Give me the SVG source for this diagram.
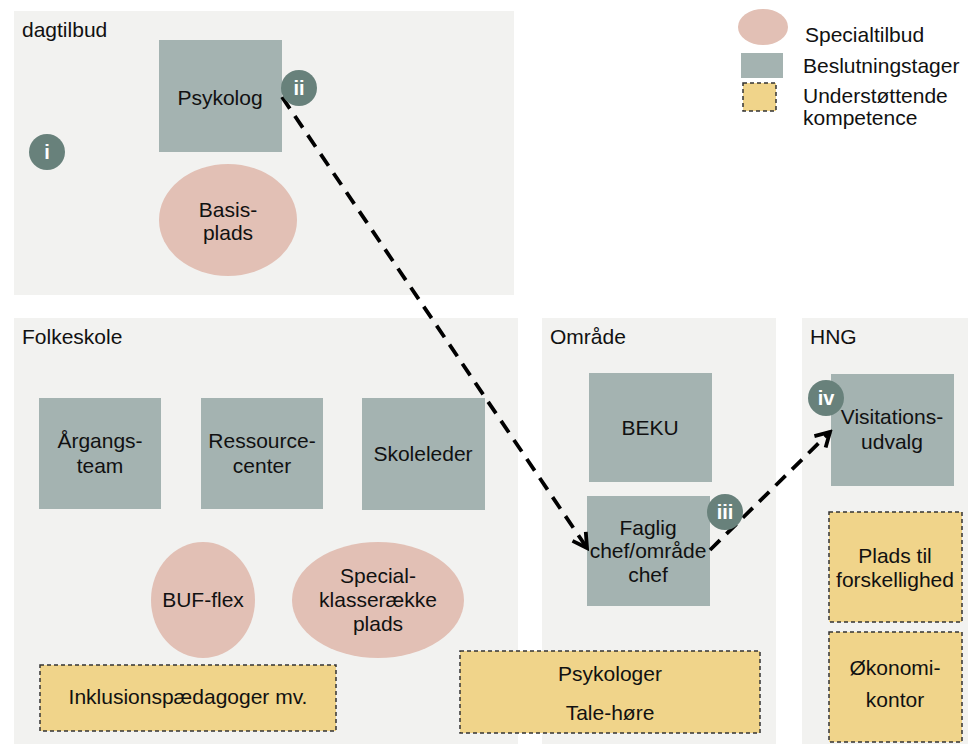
<svg xmlns="http://www.w3.org/2000/svg" width="968" height="744" viewBox="0 0 968 744">
<style>
text{font-family:"Liberation Sans",Arial,sans-serif;font-size:21px;fill:#111}
.c{text-anchor:middle}
.panel{fill:#f2f2f0}
.box{fill:#a4b3b1}
.ell{fill:#e2c0b5}
.sup{fill:#f0d48a;stroke:#333;stroke-width:1.5;stroke-dasharray:4 3}
.badge circle{fill:#68817b}
.badge text{fill:#fff;font-weight:bold;font-size:20px;text-anchor:middle}
.conn{fill:none;stroke:#000;stroke-width:3.8;stroke-dasharray:14 9}
</style>
<defs>
<marker id="arr" markerUnits="userSpaceOnUse" markerWidth="20" markerHeight="20" viewBox="0 0 20 20" refX="17" refY="10" orient="auto">
<path d="M3,2 L17,10 L3,18" fill="none" stroke="#000" stroke-width="3.8"/>
</marker>
</defs>
<rect width="968" height="744" fill="#fff"/>
<g id="panel-dagtilbud"><rect class="panel" x="14" y="11" width="500" height="284"/><text x="22" y="37">dagtilbud</text></g>
<g id="panel-folkeskole"><rect class="panel" x="14" y="318" width="504" height="430"/><text x="22" y="344">Folkeskole</text></g>
<g id="panel-omraade"><rect class="panel" x="542" y="318" width="234" height="430"/><text x="550" y="344">Område</text></g>
<g id="panel-hng"><rect class="panel" x="802" y="318" width="166" height="430"/><text x="810" y="344">HNG</text></g>

<g id="legend">
<ellipse class="ell" cx="763" cy="27" rx="25" ry="18"/>
<rect class="box" x="741" y="53" width="42" height="25"/>
<rect class="sup" x="743" y="83" width="33" height="28"/>
<text x="805" y="42">Specialtilbud</text>
<text x="803" y="73">Beslutningstager</text>
<text x="803" y="103">Understøttende</text>
<text x="803" y="125">kompetence</text>
</g>

<g id="psykolog"><rect class="box" x="159" y="40" width="123" height="112"/><text class="c" x="220" y="105">Psykolog</text></g>
<g id="basisplads"><ellipse class="ell" cx="228" cy="220" rx="69" ry="56"/><text class="c" x="228" y="217">Basis-</text><text class="c" x="228" y="240">plads</text></g>
<g id="aargangsteam"><rect class="box" x="39" y="398" width="122" height="111"/><text class="c" x="100" y="448">Årgangs-</text><text class="c" x="100" y="473">team</text></g>
<g id="ressourcecenter"><rect class="box" x="201" y="398" width="122" height="111"/><text class="c" x="262" y="448">Ressource-</text><text class="c" x="262" y="473">center</text></g>
<g id="skoleleder"><rect class="box" x="362" y="398" width="123" height="112"/><text class="c" x="423" y="461">Skoleleder</text></g>
<g id="bufflex"><ellipse class="ell" cx="203" cy="600" rx="52" ry="58"/><text class="c" x="203" y="607">BUF-flex</text></g>
<g id="specialklasse"><ellipse class="ell" cx="378" cy="600" rx="86" ry="58"/><text class="c" x="378" y="583">Special-</text><text class="c" x="378" y="607">klasserække</text><text class="c" x="378" y="631">plads</text></g>
<g id="inklusion"><rect class="sup" x="40" y="665" width="296" height="66"/><text class="c" x="188" y="704">Inklusionspædagoger mv.</text></g>
<g id="beku"><rect class="box" x="589" y="373" width="123" height="109"/><text class="c" x="650" y="435">BEKU</text></g>
<g id="faglig"><rect class="box" x="587" y="496" width="123" height="110"/><text class="c" x="648" y="535">Faglig</text><text class="c" x="648" y="558">chef/område</text><text class="c" x="648" y="582">chef</text></g>
<g id="psykologer"><rect class="sup" x="460" y="651" width="300" height="82"/><text class="c" x="610" y="681">Psykologer</text><text class="c" x="610" y="720">Tale-høre</text></g>
<g id="visitation"><rect class="box" x="831" y="374" width="123" height="112"/><text class="c" x="892" y="424">Visitations-</text><text class="c" x="892" y="449">udvalg</text></g>
<g id="plads"><rect class="sup" x="829" y="512" width="133" height="110"/><text class="c" x="895" y="563">Plads til</text><text class="c" x="895" y="587">forskellighed</text></g>
<g id="oekonomi"><rect class="sup" x="829" y="632" width="133" height="110"/><text class="c" x="895" y="675">Økonomi-</text><text class="c" x="895" y="707">kontor</text></g>

<g id="connectors">
<path class="conn" d="M282,97 L587,548" marker-end="url(#arr)"/>
<path class="conn" d="M710,550 L830,432" marker-end="url(#arr)"/>
</g>

<g id="badge-i" class="badge"><circle cx="47" cy="152" r="18"/><text x="47" y="159">i</text></g>
<g id="badge-ii" class="badge"><circle cx="299" cy="88" r="18"/><text x="299" y="95">ii</text></g>
<g id="badge-iii" class="badge"><circle cx="725" cy="512" r="18"/><text x="725" y="519">iii</text></g>
<g id="badge-iv" class="badge"><circle cx="826" cy="398" r="18"/><text x="826" y="405">iv</text></g>
</svg>
